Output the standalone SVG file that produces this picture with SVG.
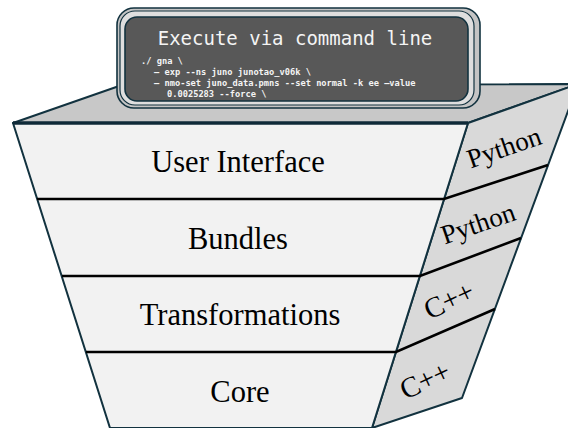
<svg xmlns="http://www.w3.org/2000/svg" width="568" height="428" viewBox="0 0 568 428">
  <style>
    .edge { stroke: #12323f; stroke-width: 2; stroke-linejoin: round; }
    .front { fill: #f2f2f2; }
    .side { fill: #d9d9d9; }
    .top { fill: #c8c8c8; }
    .sep { stroke: #000; stroke-width: 2.6; fill: none; }
    .layer { font-family: "Liberation Serif", "Times New Roman", serif; font-size: 30.5px; fill: #000; text-anchor: middle; }
    .lang { font-family: "Liberation Serif", "Times New Roman", serif; font-size: 27px; fill: #000; text-anchor: middle; }
    .cpp { font-size: 29px; }
    .title { font-family: "DejaVu Sans Mono", monospace; font-size: 19px; fill: #f4f4f4; text-anchor: middle; }
    .code { font-family: "DejaVu Sans Mono", monospace; font-size: 8.7px; font-weight: bold; fill: #f4f4f4; }
  </style>

  <!-- stack body: top face, right side face, front face -->
  <g id="stack-body">
    <polygon class="top edge" points="13,123 122,85 578,84 468,123"/>
    <polygon class="side edge" points="468,123 578,84 462,398 372,428"/>
    <polygon class="front edge" points="13,123 468,123 372,428 110,428"/>
    <line x1="13" y1="123" x2="468" y2="123" stroke="#0f2a38" stroke-width="3.5"/>
  </g>

  <!-- layer separators on front and side -->
  <g id="separators">
    <path class="sep" d="M37,199 H444 L548,165"/>
    <path class="sep" d="M62,276 H420 L521,238"/>
    <path class="sep" d="M86,352 H396 L495,309"/>
  </g>

  <g id="layer-ui">
    <text class="layer" x="238" y="172">User Interface</text>
    <text class="lang" transform="translate(507,156) rotate(-19)">Python</text>
  </g>
  <g id="layer-bundles">
    <text class="layer" x="238" y="249">Bundles</text>
    <text class="lang" transform="translate(481,232) rotate(-19)">Python</text>
  </g>
  <g id="layer-transformations">
    <text class="lang cpp" transform="translate(453,309) rotate(-25)">C++</text>
    <text class="layer" x="240" y="325">Transformations</text>
  </g>
  <g id="layer-core">
    <text class="layer" x="240" y="402">Core</text>
    <text class="lang cpp" transform="translate(429,389) rotate(-25)">C++</text>
  </g>

  <!-- command-line panel sitting on the top face -->
  <g id="cli-box">
    <rect x="117" y="8" width="363" height="100" rx="17" fill="#c4c4c4" stroke="#12323f" stroke-width="1.6"/>
    <rect x="120" y="11" width="354" height="94" rx="15" fill="#dedede" stroke="#12323f" stroke-width="1.2"/>
    <rect x="125" y="17" width="343" height="84" rx="12" fill="#585858" stroke="#12323f" stroke-width="1.6"/>
    <text class="title" x="295" y="45">Execute via command line</text>
    <text class="code" x="141" y="64">./ gna \</text>
    <text class="code" x="154" y="75">— exp --ns juno junotao_v06k \</text>
    <text class="code" x="154" y="86">— nmo-set juno_data.pmns --set normal -k ee —value</text>
    <text class="code" x="167" y="97">0.0025283 --force \</text>
  </g>
</svg>
